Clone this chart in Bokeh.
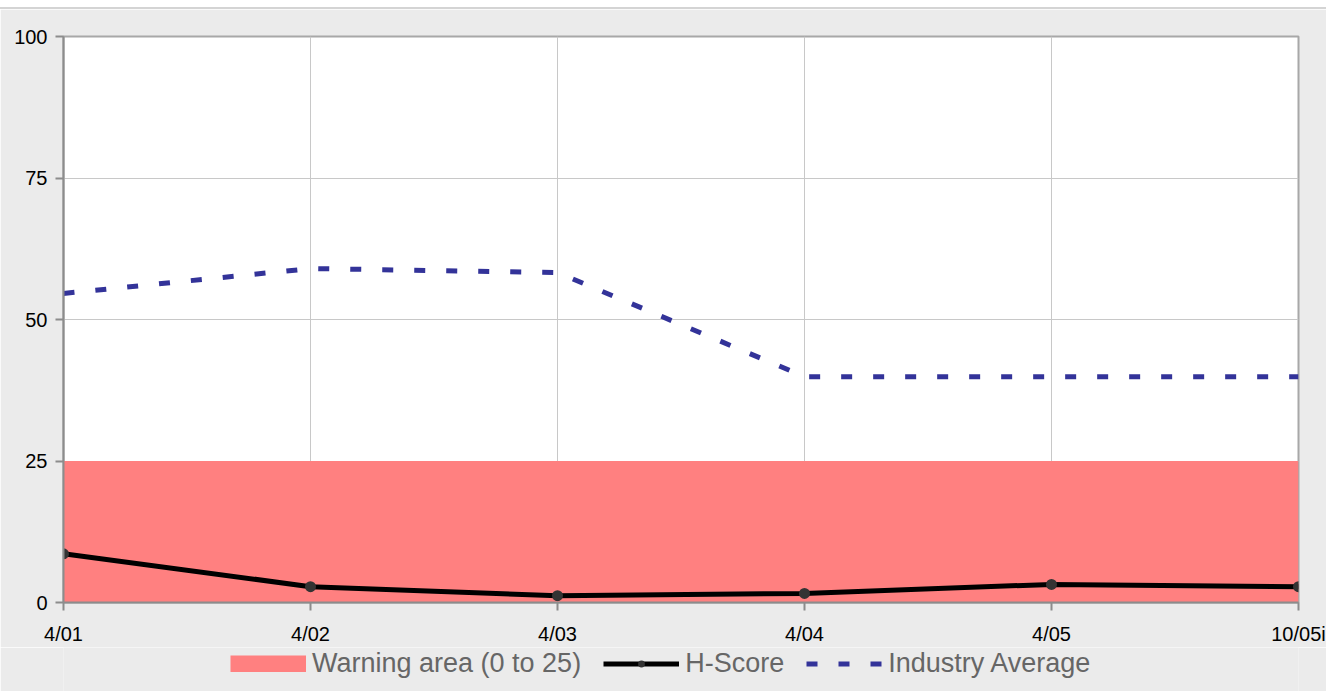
from bokeh.plotting import figure
from bokeh.models import Legend, LegendItem, FixedTicker, Range1d, Spacer
from bokeh.layouts import column
from bokeh.embed import file_html
from bokeh.resources import INLINE

# Series data
dates = ["4/01", "4/02", "4/03", "4/04", "4/05", "10/05i"]
h_score = [8.6, 2.8, 1.2, 1.6, 3.2, 2.8]
industry_avg = [54.6, 59.0, 58.3, 39.9, 39.9, 39.9]
warning_low = [0, 0, 0, 0, 0, 0]
warning_high = [25, 25, 25, 25, 25, 25]
y_ticks = [0, 25, 50, 75, 100]

xs = list(range(len(dates)))
FONT = "Liberation Sans"
BG = "#ebebeb"
WARN_COLOR = "#ff8080"

HS_LINE_STYLE = dict(line_color="black", line_width=5)
HS_PT_STYLE = dict(marker="circle", size=11, fill_color="#333333", line_color=None)
IND_STYLE = dict(line_color="#333399", line_width=5, line_dash="11 21")

p = figure(
    width=1326, height=638,
    x_range=Range1d(0, len(dates) - 1), y_range=Range1d(0, 100),
    output_backend="svg", toolbar_location=None,
    min_border_left=63, min_border_right=28, min_border_top=27, min_border_bottom=45,
    background_fill_color="white", border_fill_color=BG,
)
p.outline_line_color = "#a8a8a8"
p.outline_line_width = 2

# Grid
p.xgrid.ticker = FixedTicker(ticks=xs)
p.ygrid.ticker = FixedTicker(ticks=y_ticks)
for g in (p.xgrid, p.ygrid):
    g.grid_line_color = "#c8c8c8"
    g.grid_line_width = 1

# Axes
p.xaxis.ticker = FixedTicker(ticks=xs)
p.xaxis.major_label_overrides = {i: d for i, d in enumerate(dates)}
p.yaxis.ticker = FixedTicker(ticks=y_ticks)
for ax in (p.xaxis, p.yaxis):
    ax.axis_line_color = "#8c8c8c"
    ax.axis_line_width = 2
    ax.major_tick_line_color = "#8c8c8c"
    ax.major_tick_line_width = 2
    ax.major_tick_out = 8
    ax.major_tick_in = 0
    ax.minor_tick_line_color = None
    ax.major_label_text_font = FONT
    ax.major_label_text_font_size = "20px"
    ax.major_label_text_color = "black"
p.xaxis.major_label_standoff = 12
p.yaxis.major_label_standoff = 8

# Series
p.varea(x=xs, y1=warning_low, y2=warning_high, fill_color=WARN_COLOR, fill_alpha=1.0)
p.line(xs, h_score, **HS_LINE_STYLE)
p.scatter(xs, h_score, **HS_PT_STYLE)
p.line(xs, industry_avg, **IND_STYLE)

# Legend strip underneath the chart; its series sit outside its visible
# y range so only the legend keys show
lg = figure(
    width=1326, height=44, x_range=Range1d(0, len(dates) - 1), y_range=Range1d(-2, -1),
    x_axis_type=None, y_axis_type=None, output_backend="svg", toolbar_location=None,
    min_border=0, min_border_left=0, min_border_right=0, min_border_top=0, min_border_bottom=0,
    background_fill_color=BG, border_fill_color=BG,
)
lg.grid.visible = False
lg.outline_line_color = None
k_warn = lg.line(xs, warning_high, line_color=WARN_COLOR, line_width=17, line_cap="butt")
k_hs_line = lg.line(xs, h_score, **HS_LINE_STYLE)
k_hs_pts = lg.scatter(xs, h_score, **HS_PT_STYLE)
k_ind = lg.line(xs, industry_avg, **IND_STYLE)

legend = Legend(
    items=[
        LegendItem(label="Warning area (0 to 25)", renderers=[k_warn]),
        LegendItem(label="H-Score", renderers=[k_hs_line, k_hs_pts]),
        LegendItem(label="Industry Average", renderers=[k_ind]),
    ],
    orientation="horizontal", location=(167, 12),
    glyph_width=76, glyph_height=17, label_standoff=6, spacing=22,
    padding=0, margin=0, border_line_color=None, background_fill_alpha=0,
    label_text_font=FONT, label_text_font_size="27px", label_text_color="#666666",
)
lg.add_layout(legend, "center")

top = Spacer(width=1326, height=9, styles={"border-bottom": "2px solid #d4d4d4",
                                           "box-sizing": "border-box",
                                           "background-color": "white"})
layout = column(top, p, lg, spacing=0)

open("out.html", "w").write(file_html(layout, INLINE))
